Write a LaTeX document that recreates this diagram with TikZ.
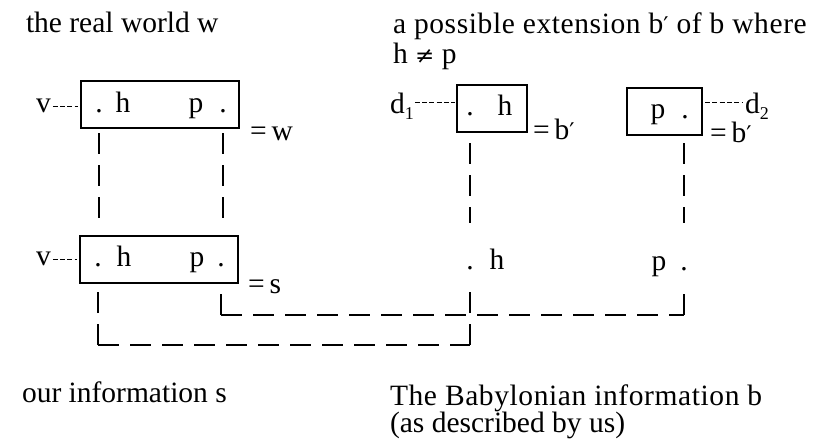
\documentclass[tikz,border=0pt]{standalone}
\usepackage{fontspec}
\setmainfont{Liberation Serif}
\newfontfamily\symfont{DejaVu Serif}
\newfontfamily\widefont[LetterSpace=2]{Liberation Serif}
\usetikzlibrary{calc}
\newcommand{\prm}{{\symfont\fontsize{23}{23}\selectfont ′}}
\newcommand{\subsc}[1]{\raisebox{-0.22em}{\fontsize{18}{18}\selectfont #1}}
\begin{document}
\begin{tikzpicture}[x=1pt,y=-1pt,
  every node/.style={inner sep=0pt, outer sep=0pt, font=\fontsize{29.5}{33}\selectfont},
  lbl/.style={anchor=base west},
  ctr/.style={anchor=base},
  box/.style={draw, line width=1.3pt, anchor=north west, minimum height=47pt},
  link/.style={line width=1.4pt, dash pattern=on 21pt off 11pt},
  tick/.style={line width=1pt, dash pattern=on 5pt off 2.3pt}]
\useasboundingbox (0,0) rectangle (821,445);

% captions
\node[lbl] (t1) at (26,32) {the real world w};
\node[lbl] (t2) at (393,33) {\widefont a possible extension b\prm{} of b where};
\node[lbl] (t3) at (393,63) {h {\symfont\fontsize{23}{23}\selectfont ≠} p};
\node[lbl] (t4) at (22,402) {our information s};
\node[lbl] (t5) at (390,405) {\widefont The Babylonian information b};
\node[lbl] (t6) at (390,432) {(as described by us)};

% boxes
\node[box, minimum width=158pt] (wbox) at (81,81) {};
\node[box, minimum width=158pt] (sbox) at (80,236) {};
\node[box, minimum width=70pt] (b1box) at (457,85) {};
\node[box, minimum width=75pt] (b2box) at (627,88) {};

% box contents
\node[ctr] (wd1) at (99,112) {.};
\node[ctr] (wh) at (123,112) {h};
\node[ctr] (wp) at (196,112) {p};
\node[ctr] (wd2) at (223,112) {.};
\node[ctr] (sd1) at (98,266) {.};
\node[ctr] (sh) at (124,266) {h};
\node[ctr] (sp) at (197,266) {p};
\node[ctr] (sd2) at (221,266) {.};
\node[ctr] (b1d) at (470,115) {.};
\node[ctr] (b1h) at (505,115) {h};
\node[ctr] (b2p) at (658,118) {p};
\node[ctr] (b2d) at (685,118) {.};
\node[ctr] (bd1) at (470,269) {.};
\node[ctr] (bh) at (497,269) {h};
\node[ctr] (bp) at (659,270) {p};
\node[ctr] (bd2) at (684,270) {.};

% labels
\node[lbl] (vw) at (36,112) {v};
\node[lbl] (vs) at (36,265) {v};
\node[lbl] (d1) at (390,113) {d\subsc{1}};
\node[lbl] (d2) at (745,113) {d\subsc{2}};
\node[lbl] (ew) at (250,140) {=\,w};
\node[lbl] (es) at (248,293) {=\,s};
\node[lbl] (eb1) at (533,139) {=\,b\prm};
\node[lbl] (eb2) at (710,142) {=\,b\prm};

% short dashes
\coordinate (vwa) at ($(vw.base east)+(2,-6)$);
\draw[tick] (vwa) -- ($(vwa -| wbox.west)+(-3,0)$);
\coordinate (vsa) at ($(vs.base east)+(2,-6)$);
\draw[tick] (vsa) -- ($(vsa -| sbox.west)+(-3,0)$);
\coordinate (d1a) at ($(d1.base east)+(1,-11)$);
\draw[tick] (d1a) -- ($(d1a -| b1box.west)+(-2,0)$);
\coordinate (d2a) at ($(d2.base west)+(-2,-11)$);
\draw[tick] ($(d2a -| b2box.east)+(3,0)$) -- (d2a);

% vertical links w -> s
\draw[link] ($(wbox.south -| wd1)+(0,5)$) -- ($(sbox.north -| wd1)+(0,-18)$);
\draw[link] ($(wbox.south -| wd2)+(0,5)$) -- ($(sbox.north -| wd2)+(0,-18)$);
% vertical links b' -> b
\draw[link] ($(b1box.south -| b1d)+(0,11)$) -- ($(bd1.south)+(0,-46)$);
\draw[link] ($(b2box.south -| bd2)+(0,8)$) -- ($(bd2.south)+(0,-47)$);

% links s -> b
\coordinate (c1) at ($(sbox.south -| sd2)+(0,32)$);
\coordinate (c2) at (c1 -| bd2);
\draw[link] (c1) -- (sbox.south -| sd2);
\draw[link] (c1) -- (c2);
\draw[link] (c2) -- ($(bd2.south)+(0,22)$);
\coordinate (c3) at ($(sbox.south -| sd1)+(0,62)$);
\coordinate (c4) at (c3 -| bd1);
\draw[link] (c3) -- (sbox.south -| sd1);
\draw[link] (c3) -- (c4);
\draw[link] (c4) -- ($(bd1.south)+(0,23)$);
\end{tikzpicture}
\end{document}
